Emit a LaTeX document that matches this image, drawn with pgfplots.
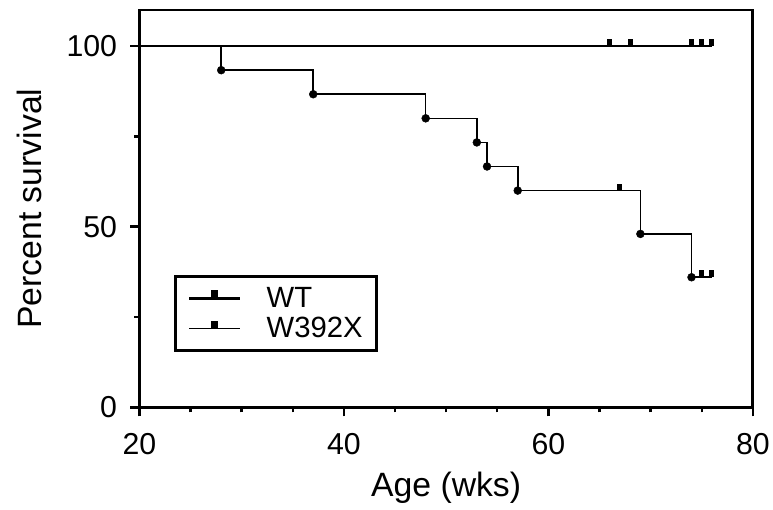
\documentclass[border=0pt]{standalone}
\usepackage{fontspec}
\setmainfont{Liberation Sans}
\usepackage{pgfplots}
\pgfplotsset{compat=1.18}

% censored observation: small filled block standing on the line
\pgfdeclareplotmark{cens}{%
  \pgfpathrectangle{\pgfpoint{-2.5bp}{0bp}}{\pgfpoint{5bp}{7bp}}%
  \pgfusepathqfill}

\begin{document}
\begin{tikzpicture}
\begin{axis}[
    scale only axis,
    width=616bp, height=399bp,
    xmin=20, xmax=80,
    ymin=0, ymax=110,
    xtick={20,40,60,80}, minor x tick num=3,
    ytick={0,50,100}, minor y tick num=1,
    xtick pos=bottom, ytick pos=left,
    tick align=outside,
    major tick length=9bp, minor tick length=5bp,
    tick style={black, line width=2.4bp},
    axis line style={line width=2.8bp},
    ticklabel style={font=\fontsize{30.5}{32}\selectfont},
    xticklabel style={yshift=-14bp},
    yticklabel style={xshift=-10bp},
    label style={font=\fontsize{34}{37}\selectfont},
    /pgf/number format/assume math mode=true,
    xlabel={Age (wks)},
    ylabel={Percent survival},
    xlabel style={at={(axis description cs:0.5,-0.203)}, anchor=center},
    ylabel style={at={(axis description cs:-0.1786,0.5)}, anchor=center},
    legend style={
        at={(rel axis cs:0.057,0.333)}, anchor=north west,
        draw=black, line width=2.8bp,
        font=\fontsize{29.5}{32}\selectfont,
        inner xsep=12bp, inner ysep=10bp,
        nodes={inner sep=1.5bp},
        column sep=24bp,
        row sep=5bp,
    },
    legend cell align=left,
    legend image code/.code={
        \draw[#1] (0bp,0bp) -- (51bp,0bp);
        \fill (23bp,0bp) rectangle (28bp,7bp);
    },
]

\addplot[black, const plot, line width=2.8bp]
    coordinates {(20,100)(76,100)};
\addlegendentry{WT}

\addplot[black, const plot, line width=1.6bp]
    coordinates {(20,100)(28,93.33)(37,86.67)(48,80)(53,73.33)(54,66.67)(57,60)(69,48)(74,36)(76,36)};
\addlegendentry{W392X}

% deaths
\addplot[black, only marks, mark=*, mark size=4bp, forget plot]
    coordinates {(28,93.33)(37,86.67)(48,80)(53,73.33)(54,66.67)(57,60)(69,48)(74,36)};

% censored
\addplot[black, only marks, mark=cens, forget plot]
    coordinates {(66,100)(68,100)(74,100)(75,100)(76,100)};
\addplot[black, only marks, mark=cens, forget plot]
    coordinates {(67,60)(75,36)(76,36)};

\end{axis}
% page margins as in the reference
\path (current axis.south west) ++(-140bp,-103bp);
\path (current axis.north east) ++(17bp,10bp);
\end{tikzpicture}
\end{document}
